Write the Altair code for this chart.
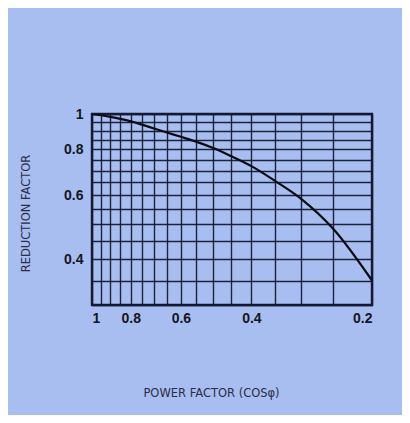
import altair as alt
import pandas as pd

# Curve (power factor -> reduction factor)
power_factor = [1.0, 0.95, 0.9, 0.85, 0.8, 0.75, 0.7, 0.65, 0.6, 0.55, 0.5, 0.45, 0.4, 0.35, 0.3, 0.25, 0.2]
reduction = [1.0, 0.992, 0.982, 0.97, 0.955, 0.935, 0.913, 0.89, 0.866, 0.84, 0.808, 0.767, 0.72, 0.657, 0.585, 0.485, 0.35]

x_grid = [1.0, 0.95, 0.9, 0.85, 0.8, 0.75, 0.7, 0.65, 0.6, 0.55, 0.5, 0.45, 0.4, 0.35, 0.3, 0.25, 0.2]
y_grid = [1.0, 0.95, 0.9, 0.85, 0.8, 0.75, 0.7, 0.65, 0.6, 0.55, 0.5, 0.45, 0.4, 0.35, 0.3]
x_labels = [1, 0.8, 0.6, 0.4, 0.2]
y_labels = [1, 0.8, 0.6, 0.4]

df = pd.DataFrame({"pf": power_factor, "rf": reduction})

BG = "#a9bef0"
INK = "#141a33"

x_expr = "indexof([" + ",".join(str(v) for v in x_labels) + "], datum.value) >= 0 ? datum.label : ''"
y_expr = "indexof([" + ",".join(str(v) for v in y_labels) + "], datum.value) >= 0 ? datum.label : ''"

chart = alt.Chart(df).mark_line(color="#0b0b12", strokeWidth=2.2, clip=True, interpolate="monotone").encode(
    x=alt.X("pf:Q",
            scale=alt.Scale(type="log", domain=[0.2, 1], reverse=True, nice=False, zero=False),
            axis=alt.Axis(values=x_grid, labelExpr=x_expr, format=".1~f", title="POWER FACTOR (COSφ)",
                          labelOverlap=False, ticks=False, domain=False,
                          titleX=119, titleY=82, titleAnchor="middle", titleAlign="center")),
    y=alt.Y("rf:Q",
            scale=alt.Scale(type="log", domain=[0.3, 1], nice=False, zero=False),
            axis=alt.Axis(values=y_grid, labelExpr=y_expr, format=".1~f", title="REDUCTION FACTOR",
                          labelOverlap=False, ticks=False, domain=False,
                          titleX=-66, titleY=99, titleAlign="center", titleBaseline="middle")),
).properties(
    width=280,
    height=191,
    background=BG,
    padding={"left": 84, "top": 106, "right": 30, "bottom": 110},
    autosize=alt.AutoSizeParams(type="none"),
).configure_view(
    stroke=INK, strokeWidth=2.4, fill=BG
).configure_axis(
    grid=True, gridColor=INK, gridOpacity=0.95, gridWidth=1.4,
    labelFont="Liberation Sans", labelFontSize=14, labelFontWeight="bold", labelColor="#15151f",
    titleFont="DejaVu Sans", titleFontSize=11.5, titleFontWeight="normal", titleColor="#2a2d45",
    labelPadding=6
).configure_axisY(labelPadding=9)

chart.save("out.html", embed_options={"renderer": "svg", "actions": False})
